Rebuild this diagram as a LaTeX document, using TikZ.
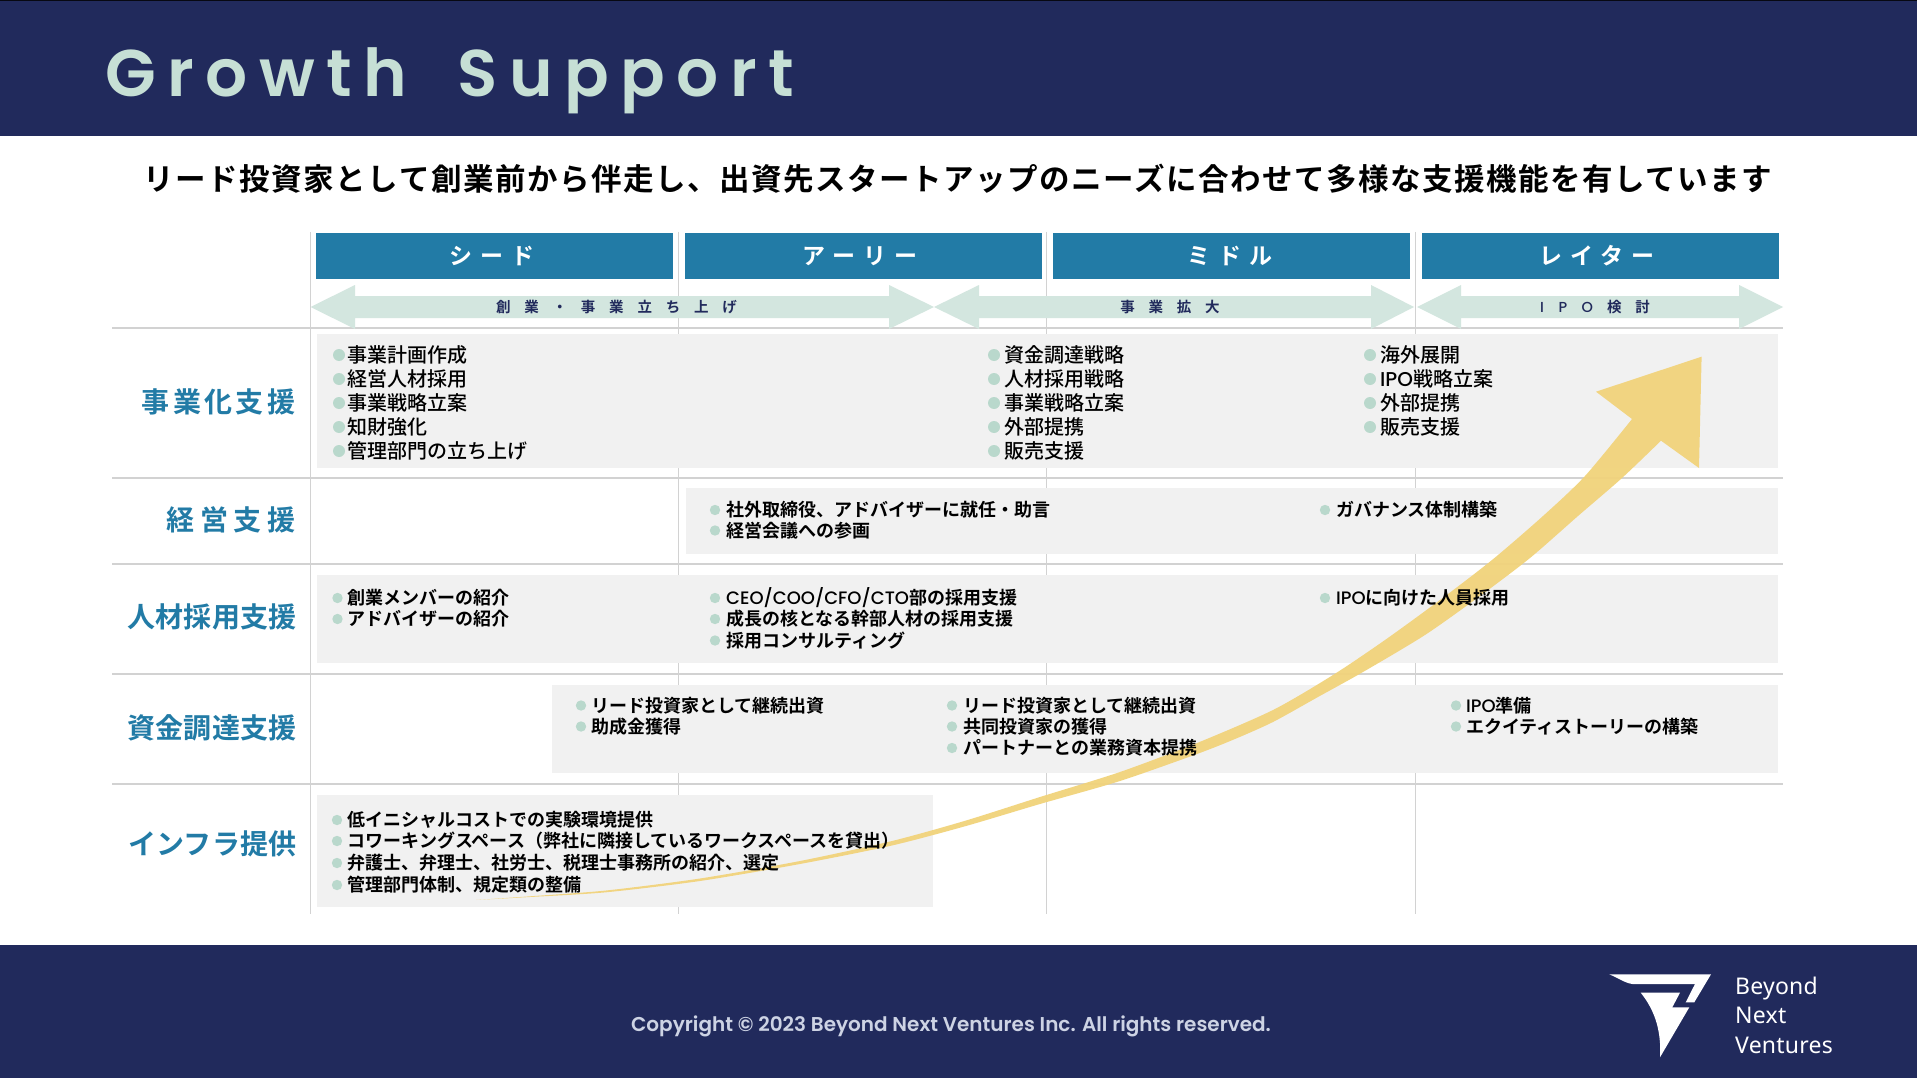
\documentclass[tikz,border=0pt]{standalone}
\usepackage{fontspec}
\setmainfont{Noto Sans CJK JP Medium}
\newfontfamily\jp{Noto Sans CJK JP Medium}
\newfontfamily\jb{Noto Sans CJK JP Bold}
\newfontfamily\lat{Poppins Medium}
\newfontfamily\latsb{Poppins SemiBold}
\newfontfamily\logofont{Noto Sans}
\definecolor{navy}{HTML}{212A5C}
\definecolor{mint}{HTML}{C6DFD5}
\definecolor{barblue}{HTML}{227BA6}
\definecolor{arrowmint}{HTML}{D3E6DF}
\definecolor{graybox}{HTML}{F1F1F1}
\definecolor{gridgray}{HTML}{D2D2D2}
\definecolor{bulletc}{HTML}{B9D8CC}
\definecolor{gold}{HTML}{F1D37B}
\definecolor{copyc}{HTML}{CDD3E4}
\newcommand\fs[1]{\fontsize{#1}{#1}\selectfont}
\newcommand\ls[1]{\addfontfeature{LetterSpace=#1}}
\newcommand\ltn[1]{{\lat #1}}
\tikzset{
  x=1pt,y=-1pt,
  band/.style={fill=navy,draw=none},
  gridline/.style={draw=gridgray,line width=1.4pt},
  gbox/.style={fill=graybox,draw=none},
  hbar/.style={fill=barblue,draw=none},
  darrow/.style={fill=arrowmint,draw=none},
  phase/.style={inner sep=0pt,text=white,anchor=base,font=\jb\fs{23}\ls{36}},
  sublabel/.style={inner sep=0pt,text=navy,anchor=base,font=\jb\fs{14.5}\ls{95}},
  rowlabel/.style={inner sep=0pt,text=barblue,anchor=base east,font=\jb\fs{28}},
  itembig/.style={inner sep=0pt,anchor=base west,text=black,font=\jp\fs{20}},
  itemsmall/.style={inner sep=0pt,anchor=base west,text=black,font=\jb\fs{18}},
}
\newcounter{itemno}
\newcommand\bigitem[4]{\stepcounter{itemno}\fill[bulletc] (#1,#3) circle (6);
  \node[itembig] (it\theitemno) at (#2,#3+7.4) {#4};}
\newcommand\smallitem[4]{\stepcounter{itemno}\fill[bulletc] (#1,#3) circle (5.2);
  \node[itemsmall] (it\theitemno) at (#2,#3+6.6) {#4};}
\newcommand\darr[4]{\fill[darrow] (#1,307) -- (#2,285) -- (#2,296) -- (#3,296) -- (#3,285) -- (#4,307) -- (#3,329) -- (#3,318) -- (#2,318) -- (#2,329) -- cycle;}
\begin{document}
\begin{tikzpicture}
\useasboundingbox (0,0) rectangle (1917,1078);
\fill[white] (0,0) rectangle (1917,1078);
% bands
\fill[band] (0,0) rectangle (1917,136);
\fill[black!80!navy] (0,0) rectangle (1917,1.2);
\fill[band] (0,945) rectangle (1917,1078);
% title
\node[inner sep=0pt,anchor=base west,text=mint,font=\latsb\fs{66}\ls{17.5}] (title) at (105,97) {Growth\hspace{50pt}Support};
\node[inner sep=0pt,anchor=base,text=black,font=\jb\fs{30.5}\ls{5}] (subtitle) at (958,190.5) {リード投資家として創業前から伴走し、出資先スタートアップのニーズに合わせて多様な支援機能を有しています};
% grid
\foreach \gx in {310.5,678.5,1046.5,1415.5}{\draw[draw=gridgray,line width=1.2pt] (\gx,232) -- (\gx,914);}
\foreach \gy in {328,478,564,674,784}{\draw[gridline] (112,\gy) -- (1783,\gy);}
% header bars
\fill[hbar] (316,233) rectangle (673,279);
\fill[hbar] (685,233) rectangle (1042,279);
\fill[hbar] (1053,233) rectangle (1410,279);
\fill[hbar] (1422,233) rectangle (1779,279);
\node[phase] (p1) at (492,264) {シード};
\node[phase] (p2) at (860,264) {アーリー};
\node[phase] (p3) at (1230,264) {ミドル};
\node[phase] (p4) at (1597,264) {レイター};
% double arrows
\darr{310.5}{355}{889}{934}
\darr{934}{979}{1371}{1414}
\darr{1417}{1461}{1739}{1783}
\node[sublabel] (s1) at (616.5,312.5) {創業・事業立ち上げ};
\node[sublabel] (s2) at (1170,312.5) {事業拡大};
\node[sublabel] (s3) at (1595,312.5) {{\lat\ls{100}IPO}\hspace{14pt}検討};
% gray boxes
\fill[gbox] (317,334) rectangle (1778,468);
\fill[gbox] (686,488) rectangle (1778,554);
\fill[gbox] (317,574.5) rectangle (1778,663);
\fill[gbox] (551.5,684.5) rectangle (1778,773);
\fill[gbox] (317,795) rectangle (933,907);
% growth arrow
\fill[gold,opacity=.95] plot[smooth,tension=.45] coordinates {(476,900) (530,896.3) (606,890.5) (700,878.5) (800,861) (892,841) (966,820.5) (1040,797) (1120,772) (1197,743) (1273,710) (1333,675) (1385,640) (1440,600) (1492,560) (1543,516) (1585,476) (1632,419)}
  -- (1596,391.7) -- (1701.6,356.7) -- (1699,468) -- (1661,440.7)
  -- plot[smooth,tension=.45] coordinates {(1661,440.7) (1622,478) (1578,516) (1530,558) (1480,596) (1425,635) (1363,672) (1318,697) (1273,722) (1235,739) (1197,754) (1120,781) (1040,804) (966,826) (892,845.5) (800,864) (700,881) (606,892.3) (530,897) (476,900)} -- cycle;
% row labels
\node[rowlabel,font=\jb\fs{28}\ls{12}] (r1) at (295.5,412.5) {事業化支援};
\node[rowlabel,font=\jb\fs{28}\ls{21}] (r2) at (296,530) {経営支援};
\node[rowlabel,font=\jb\fs{28}\ls{1}] (r3) at (297,627.5) {人材採用支援};
\node[rowlabel,font=\jb\fs{28}\ls{1}] (r4) at (297,738) {資金調達支援};
\node[rowlabel,font=\jb\fs{28}\ls{1}] (r5) at (297,854) {インフラ提供};
% row 1
\bigitem{339}{347.5}{355}{事業計画作成}
\bigitem{339}{347.5}{379}{経営人材採用}
\bigitem{339}{347.5}{403}{事業戦略立案}
\bigitem{339}{347.5}{427}{知財強化}
\bigitem{339}{347.5}{451}{管理部門の立ち上げ}
\bigitem{994}{1004}{355}{資金調達戦略}
\bigitem{994}{1004}{379}{人材採用戦略}
\bigitem{994}{1004}{403}{事業戦略立案}
\bigitem{994}{1004}{427}{外部提携}
\bigitem{994}{1004}{451}{販売支援}
\bigitem{1370}{1380}{355}{海外展開}
\bigitem{1370}{1380}{379}{\ltn{IPO}戦略立案}
\bigitem{1370}{1380}{403}{外部提携}
\bigitem{1370}{1380}{427}{販売支援}
% row 2
\smallitem{715}{726}{510}{社外取締役、アドバイザーに就任・助言}
\smallitem{715}{726}{530.5}{経営会議への参画}
\smallitem{1325}{1336}{510}{ガバナンス体制構築}
% row 3
\smallitem{337.5}{347}{598}{創業メンバーの紹介}
\smallitem{337.5}{347}{619}{アドバイザーの紹介}
\smallitem{715}{726}{598}{\ltn{CEO/COO/CFO/CTO}部の採用支援}
\smallitem{715}{726}{619}{成長の核となる幹部人材の採用支援}
\smallitem{715}{726}{640.5}{採用コンサルティング}
\smallitem{1325}{1336}{598}{\ltn{IPO}に向けた人員採用}
% row 4
\smallitem{581}{591}{705.5}{リード投資家として継続出資}
\smallitem{581}{591}{726.5}{助成金獲得}
\smallitem{952}{963}{705.5}{リード投資家として継続出資}
\smallitem{952}{963}{726.5}{共同投資家の獲得}
\smallitem{952}{963}{748}{パートナーとの業務資本提携}
\smallitem{1456}{1466}{705.5}{\ltn{IPO}準備}
\smallitem{1456}{1466}{726.5}{エクイティストーリーの構築}
% row 5
\smallitem{337}{347.5}{820}{低イニシャルコストでの実験環境提供}
\smallitem{337}{347.5}{841}{コワーキングスペース（弊社に隣接しているワークスペースを貸出）}
\smallitem{337}{347.5}{863}{弁護士、弁理士、社労士、税理士事務所の紹介、選定}
\smallitem{337}{347.5}{885}{管理部門体制、規定類の整備}
% footer
\node[inner sep=0pt,anchor=base,text=copyc,font=\latsb\fs{20}] (copy) at (951,1031) {Copyright © 2023 Beyond Next Ventures Inc. All rights reserved.};
\fill[white] (1609.3,974.3) -- (1711,974.3) -- (1694.3,1002.3) -- (1685.7,1002.3) -- (1695,984) -- (1632.3,984) .. controls (1625,983) and (1618,978) .. cycle;
\fill[white] (1640.7,992.7) -- (1680,992.7) -- (1672.3,1007.3) -- (1689.3,1007.3) -- (1660,1057.3) .. controls (1661.7,1028) and (1653,1008) .. cycle;
\node[inner sep=0pt,anchor=base west,text=white,font=\logofont\fs{23}\ls{1}] (lg1) at (1735,994) {Beyond};
\node[inner sep=0pt,anchor=base west,text=white,font=\logofont\fs{23}\ls{1}] (lg2) at (1735,1023.5) {Next};
\node[inner sep=0pt,anchor=base west,text=white,font=\logofont\fs{23}\ls{1}] (lg3) at (1735,1053) {Ventures};
\end{tikzpicture}
\end{document}
